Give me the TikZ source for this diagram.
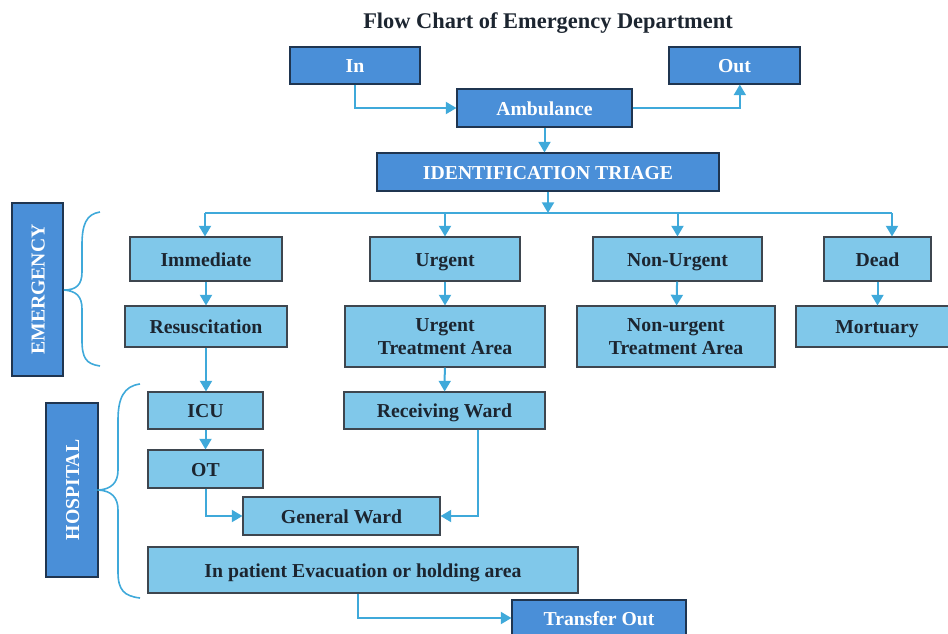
\documentclass[tikz,border=0pt]{standalone}
\usepackage{fontspec}
\setmainfont{Liberation Serif}
\usepackage{tikz}
\usetikzlibrary{shapes,arrows,calc,positioning}
\usetikzlibrary{arrows.meta}
\definecolor{darkblue}{HTML}{4A8FD8}
\definecolor{lightblue}{HTML}{80C8EA}
\definecolor{linkblue}{HTML}{3FA9DA}
\definecolor{navy}{HTML}{1F3550}
\definecolor{inkgray}{HTML}{1C2530}

\begin{document}
\begin{tikzpicture}[x=0.75pt,y=-0.75pt]
		\tikzstyle{darkn} = [draw=navy, thick, fill=darkblue, text=white, inner sep=0pt,
		text height=10.5pt, text depth=0pt, font=\fontsize{14.8}{17}\selectfont\bfseries];
		\tikzstyle{lightn} = [draw=inkgray!85, thick, fill=lightblue, text=inkgray, inner sep=0pt,
		align=center, font=\fontsize{14.8}{17}\selectfont\bfseries];
		\tikzstyle{onel} = [text height=10.5pt, text depth=0pt];
		\tikzstyle{link} = [draw=linkblue, line width=1.5pt, -{Triangle[length=8pt,width=9pt]}];
		\tikzstyle{bracen} = [draw=linkblue, line width=1.2pt];
		\useasboundingbox (0,0) rectangle (948,633);
		\node[text=inkgray, font=\fontsize{16.8}{19}\selectfont\bfseries](title) at (548,23) {Flow Chart of Emergency Department};
		\node[darkn, minimum width=97.5pt, minimum height=27.75pt](in) at (355,65.5) {In};
		\node[darkn, minimum width=98.25pt, minimum height=27.75pt](out) at (734.5,65.5) {Out};
		\node[darkn, minimum width=131.25pt, minimum height=28.5pt](amb) at (544.5,108) {Ambulance};
		\node[darkn, minimum width=256.5pt, minimum height=28.5pt](triage) at (548,172) {IDENTIFICATION TRIAGE};
		\node[darkn, rotate=90, minimum width=129.75pt, minimum height=38.25pt](emerg) at (37.5,289.5) {EMERGENCY};
		\node[lightn, onel, minimum width=114pt, minimum height=33pt](imm) at (206,259) {Immediate};
		\node[lightn, onel, minimum width=112.5pt, minimum height=33pt](urg) at (445,259) {Urgent};
		\node[lightn, onel, minimum width=126.75pt, minimum height=33pt](nonurg) at (677.5,259) {Non-Urgent};
		\node[lightn, onel, minimum width=80.25pt, minimum height=33pt](dead) at (877.5,259) {Dead};
		\node[lightn, onel, minimum width=121.5pt, minimum height=30.75pt](resus) at (206,326.5) {Resuscitation};
		\node[lightn, minimum width=150pt, minimum height=45.75pt](uta) at (445,336.5) {Urgent\\Treatment Area};
		\node[lightn, minimum width=148.5pt, minimum height=45.75pt](nuta) at (676,336.5) {Non-urgent\\Treatment Area};
		\node[lightn, onel, minimum width=121.5pt, minimum height=30.75pt](mort) at (877,326.5) {Mortuary};
		\node[darkn, rotate=90, minimum width=130.5pt, minimum height=39pt](hosp) at (72,490) {HOSPITAL};
		\node[lightn, onel, minimum width=86.25pt, minimum height=27.75pt](icu) at (205.5,410.5) {ICU};
		\node[lightn, onel, minimum width=150.75pt, minimum height=27.75pt](rw) at (444.5,410.5) {Receiving Ward};
		\node[lightn, onel, minimum width=86.25pt, minimum height=28.5pt](ot) at (205.5,469) {OT};
		\node[lightn, onel, minimum width=147.75pt, minimum height=28.5pt](gw) at (341.5,516) {General Ward};
		\node[lightn, onel, minimum width=322.5pt, minimum height=34.5pt](evac) at (363,570) {In patient Evacuation or holding area};
		\node[darkn, minimum width=130.5pt, minimum height=27pt](trans) at (599,618) {Transfer Out};
		\coordinate (bl) at (205,213);
		\coordinate (br) at (892,213);
		\draw[link] (in.south) |- (amb.west);
		\draw[link] (amb.east) -| ([xshift=4pt]out.south);
		\draw[link] (amb.south) -- (amb.south |- triage.north);
		\draw[link] (triage.south) -- (triage.south |- bl);
		\draw[draw=linkblue, line width=1.5pt] (bl) -- (br);
		\draw[link] (bl) -- (bl |- imm.north);
		\draw[link] (urg |- bl) -- (urg);
		\draw[link] (nonurg |- bl) -- (nonurg);
		\draw[link] (br) -- (br |- dead.north);
		\draw[link] (imm) -- (resus);
		\draw[link] (urg) -- (uta);
		\draw[link] (nonurg) -- (nuta);
		\draw[link] (dead.south) -- (dead.south |- mort.north);
		\draw[link] (resus.south) -- (resus.south |- icu.north);
		\draw[link] (uta) -- (rw);
		\draw[link] (icu) -- (ot);
		\draw[link] (ot.south) |- (gw.west);
		\draw[link] ($(rw.south)+(33.5,0)$) |- (gw.east);
		\draw[link] ($(evac.south)+(-5,0)$) |- (trans.west);
		\draw[bracen] (100,212) .. controls (86,214) and (82,225) .. (82,245) -- (82,272)
			.. controls (82,285) and (76,290) .. (64,290) .. controls (76,291) and (82,296) .. (82,309)
			-- (82,340) .. controls (82,358) and (86,364) .. (100,366);
		\draw[bracen] (140,384) .. controls (124,386) and (118,398) .. (118,420) -- (118,470)
			.. controls (118,483) and (111,489) .. (99,490) .. controls (111,491) and (118,497) .. (118,510)
			-- (118,572) .. controls (118,590) and (124,596) .. (140,598);
	\end{tikzpicture}
\end{document}
